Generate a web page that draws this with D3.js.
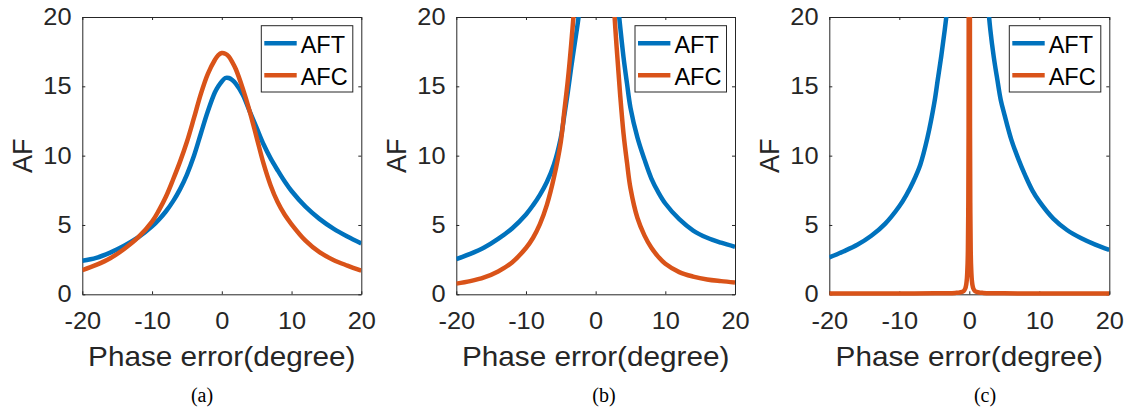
<!DOCTYPE html>
<html><head><meta charset="utf-8">
<script src="https://cdn.jsdelivr.net/npm/d3@7"></script>
<style>body{margin:0;background:#fff}</style>
</head><body>
<svg id="chart" width="1127" height="411"></svg>
<script>
// ---------- data ----------
const xTicks = [-20, -10, 0, 10, 20];
const yTicks = [0, 5, 10, 15, 20];
const seriesNames = ["AFT", "AFC"];
const captions = ["(a)", "(b)", "(c)"];
const xLabel = "Phase error(degree)";
const yLabel = "AF";

// panel (a)
const phaseA = [-20,-18,-16,-14,-12,-10,-9,-8,-7,-6,-5,-4,-3,-2,-1,-0.5,0,0.5,1,1.5,2,3,4,5,6,7,8,9,10,12,14,16,18,20];
const aftA   = [2.42,2.63,3.01,3.5,4.1,4.9,5.4,5.99,6.7,7.57,8.64,9.97,11.6,13.2,14.55,15.0,15.35,15.6,15.6,15.45,15.2,14.4,13.2,12.0,10.8,9.8,8.95,8.15,7.45,6.32,5.44,4.74,4.17,3.67];
const afcA   = [1.74,2.12,2.6,3.27,4.1,5.24,6.07,7.05,8.26,9.55,11.0,12.7,14.46,15.9,16.9,17.25,17.4,17.35,17.15,16.75,16.25,14.85,13.2,11.3,9.4,7.85,6.65,5.75,5.05,3.87,3.04,2.48,2.07,1.7];

// panel (b)
const phaseB = [-20,-18,-16,-14,-12,-10,-9,-8,-7,-6,-5,-4.5,-4,-3.5,-3,-2.5,-2,-1,0,1,2,2.5,3,3.5,4,4.5,5,6,7,8,9,10,12,14,16,18,20];
const aftB   = [2.54,2.91,3.37,3.99,4.75,5.76,6.41,7.17,8.1,9.35,11.3,12.9,14.56,16.4,18.1,19.8,22,28,35,34,27,24,21.8,19.4,17.1,15.2,13.45,11.3,9.73,8.35,7.35,6.55,5.42,4.6,4.08,3.72,3.43];
const afcB   = [0.77,0.95,1.22,1.65,2.3,3.34,4.06,5.06,6.45,8.4,11.0,13.2,15.4,18.1,21.3,26,32,60,80,60,30,22,17.9,14.5,11.6,9.5,7.65,5.5,4.25,3.35,2.7,2.2,1.6,1.28,1.07,0.95,0.85];

// panel (c)
const phaseC    = [-20,-18,-16,-14,-12,-10,-9,-8,-7,-6,-5,-4.5,-4,-3.5,-3,-2,-1,0,1,2,2.5,3,3.5,4,4.5,5,6,7,8,9,10,12,14,16,18,20];
const aftC      = [2.66,3.09,3.57,4.22,5.1,6.35,7.16,8.14,9.35,11.25,13.8,15.5,17.2,19.1,21.3,27,35,40,35,26,22,19.1,17.1,15.5,14.0,13.0,11.16,9.77,8.56,7.5,6.7,5.46,4.62,4.04,3.58,3.2];
const phaseCafc = [-20,-15,-10,-5,-3,-2,-1.5,-1,-0.7,-0.5,-0.4,-0.3,-0.2,-0.15,-0.1,-0.05,0,0.05,0.1,0.15,0.2,0.3,0.4,0.5,0.7,1,1.5,2,3,5,10,15,20];
const afcC      = [0.06,0.06,0.06,0.07,0.08,0.1,0.12,0.18,0.3,0.55,0.85,1.5,3.2,5.8,12,40,120,40,12,5.8,3.2,1.5,0.85,0.55,0.3,0.18,0.12,0.1,0.08,0.07,0.06,0.06,0.06];

// ---------- layout ----------
const W = 1127, H = 411;
const plotTop = 17, plotBottom = 294.3;
const axisColor = "#262626";
const colors = ["#0072BD", "#D95319"];
const sansFont = "'Liberation Sans', Arial, Helvetica, sans-serif";
const serifFont = "'Liberation Serif', 'Times New Roman', serif";

const smooth = d3.curveCatmullRom.alpha(0.5);
const panels = [
  {left: 82.3,  right: 361.3,  capX: 202, series: [[phaseA, aftA, smooth], [phaseA, afcA, smooth]]},
  {left: 456.3, right: 735.0,  capX: 604, series: [[phaseB, aftB, smooth], [phaseB, afcB, smooth]]},
  {left: 829.3, right: 1109.3, capX: 985, series: [[phaseC, aftC, smooth], [phaseCafc, afcC, d3.curveMonotoneX]]}
];

const svg = d3.select("#chart");
svg.append("rect").attr("width", W).attr("height", H).attr("fill", "#fff");
const defs = svg.append("defs");
const fmt = d => String(d);

panels.forEach((p, i) => {
  const x = d3.scaleLinear().domain([-20, 20]).range([p.left, p.right]);
  const y = d3.scaleLinear().domain([0, 20]).range([plotBottom, plotTop]);
  const g = svg.append("g");

  // axes
  const bottomAx = g.append("g").attr("transform", `translate(0,${plotBottom})`)
    .call(d3.axisBottom(x).tickValues(xTicks).tickSizeInner(-3).tickSizeOuter(0).tickPadding(18.4).tickFormat(fmt));
  const topAx = g.append("g").attr("transform", `translate(0,${plotTop})`)
    .call(d3.axisTop(x).tickValues(xTicks).tickSizeInner(-3).tickSizeOuter(0).tickFormat(""));
  const leftAx = g.append("g").attr("transform", `translate(${p.left},0)`)
    .call(d3.axisLeft(y).tickValues(yTicks).tickSizeInner(-3).tickSizeOuter(0).tickPadding(10).tickFormat(fmt));
  const rightAx = g.append("g").attr("transform", `translate(${p.right},0)`)
    .call(d3.axisRight(y).tickValues(yTicks).tickSizeInner(-3).tickSizeOuter(0).tickFormat(""));

  [bottomAx, topAx, leftAx, rightAx].forEach(a => {
    a.select(".domain").attr("stroke", axisColor).attr("stroke-width", 1);
    a.selectAll(".tick line").attr("stroke", axisColor).attr("stroke-width", 1);
    a.selectAll("text").attr("fill", axisColor)
      .style("font-family", sansFont).style("font-size", "23.5px")
      .attr("transform", "scale(1.08,1)");
  });

  // axis titles
  g.append("text")
    .attr("transform", `translate(${(p.left + p.right) / 2},366) scale(1.1,1)`)
    .attr("text-anchor", "middle").attr("fill", axisColor)
    .style("font-family", sansFont).style("font-size", "27px")
    .text(xLabel);
  g.append("text")
    .attr("transform", `translate(${p.left - 50},${(plotTop + plotBottom) / 2}) rotate(-90)`)
    .attr("text-anchor", "middle").attr("fill", axisColor)
    .style("font-family", sansFont).style("font-size", "27px")
    .text(yLabel);

  // caption
  g.append("text")
    .attr("x", p.capX).attr("y", 402)
    .attr("text-anchor", "middle").attr("fill", "#000")
    .style("font-family", serifFont).style("font-size", "20px")
    .text(captions[i]);

  // curves
  const clipId = "clip" + i;
  defs.append("clipPath").attr("id", clipId).append("rect")
    .attr("x", p.left).attr("y", plotTop)
    .attr("width", p.right - p.left).attr("height", plotBottom - plotTop + 3);
  const cg = g.append("g").attr("clip-path", `url(#${clipId})`);
  p.series.forEach((s, k) => {
    const line = d3.line().x(d => x(d[0])).y(d => y(d[1])).curve(s[2]);
    cg.append("path")
      .datum(d3.zip(s[0], s[1]))
      .attr("d", line)
      .attr("fill", "none")
      .attr("stroke", colors[k])
      .attr("stroke-width", 4.5)
      .attr("stroke-linejoin", "round");
  });

  // legend
  const lx = p.right - 100, ly = plotTop + 8.7;
  const lg = g.append("g");
  lg.append("rect").attr("x", lx).attr("y", ly).attr("width", 91.5).attr("height", 66.3)
    .attr("fill", "#fff").attr("stroke", axisColor).attr("stroke-width", 1);
  seriesNames.forEach((name, k) => {
    const yy = ly + 17.6 + k * 32;
    lg.append("line").attr("x1", lx + 3).attr("x2", lx + 35.4)
      .attr("y1", yy).attr("y2", yy)
      .attr("stroke", colors[k]).attr("stroke-width", 4.5);
    lg.append("text").attr("x", lx + 39.4).attr("y", yy + 9.8)
      .attr("fill", "#000")
      .style("font-family", sansFont).style("font-size", "23.5px")
      .text(name);
  });
});
</script>
</body></html>
